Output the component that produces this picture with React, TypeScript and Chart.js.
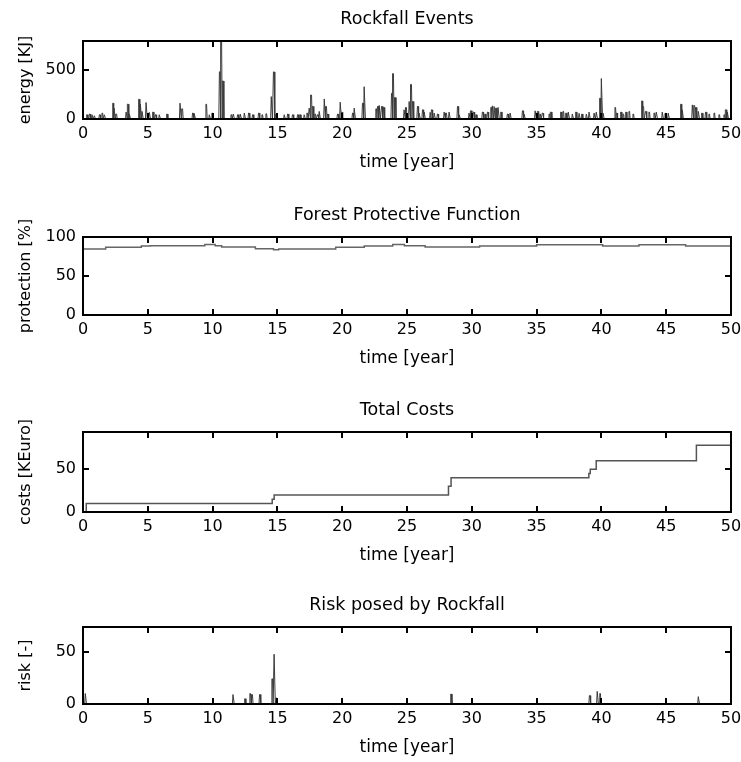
import React, { useEffect, useRef } from "react";
import { Chart, registerables } from "chart.js";

Chart.register(...registerables);

// ---------- shared axis ticks ----------
const xTicks = [0, 5, 10, 15, 20, 25, 30, 35, 40, 45, 50];

// ---------- Rockfall Events ----------
const eventTimes = [
  0.31, 0.52, 0.72, 0.9, 1.29, 1.49, 1.67, 2.32, 2.42, 2.57, 3.35, 3.47, 3.6, 4.32, 4.45, 4.58, 4.89, 5.14,
  5.4, 5.61, 5.91, 6.48, 7.51, 7.66, 8.48, 8.61, 9.51, 9.77, 9.97, 10.55, 10.67, 10.8, 11.44, 11.62, 11.95,
  12.16, 12.47, 12.8, 13.11, 13.57, 13.83, 14.14, 14.55, 14.72, 14.88, 15.55, 15.81, 16.19, 16.58, 16.75,
  17.09, 17.3, 17.48, 17.61, 17.74, 17.92, 18.12, 18.25, 18.64, 18.76, 18.89, 19.66, 19.87, 19.97, 20.82,
  20.95, 21.59, 21.72, 22.62, 22.75, 22.88, 23.06, 23.21, 23.83, 23.93, 24.08, 24.8, 24.93, 25.19, 25.32,
  25.45, 25.83, 25.96, 26.22, 26.35, 26.81, 26.91, 27.12, 27.37, 27.89, 28.02, 28.27, 28.92, 29.05, 29.81,
  29.94, 30.15, 30.33, 30.84, 31.02, 31.23, 31.49, 31.61, 31.74, 31.87, 32.05, 32.26, 32.77, 32.98, 33.93,
  34.06, 34.91, 35.09, 35.27, 35.47, 35.98, 36.11, 36.88, 37.06, 37.27, 37.47, 37.78, 38.04, 38.3, 38.5,
  38.86, 39.07, 39.46, 39.63, 39.89, 40.02, 40.15, 41.07, 41.18, 41.51, 41.69, 41.9, 42.15, 42.46, 43.13,
  43.23, 43.43, 43.69, 44.08, 44.26, 44.72, 44.93, 45.18, 46.14, 46.26, 47.04, 47.17, 47.29, 47.5, 47.76,
  48.06, 48.32, 48.71, 49.09, 49.48, 49.61, 49.74,
];
const eventEnergy = [
  43, 50, 43, 33, 43, 60, 43, 160, 110, 50, 70, 150, 50, 200, 150, 77, 167, 67,
  70, 43, 43, 50, 160, 103, 60, 53, 150, 43, 60, 478, 790, 385, 43, 50, 43,
  50, 60, 60, 43, 60, 43, 53, 227, 477, 43, 43, 50, 43, 43, 43,
  43, 60, 110, 243, 127, 50, 43, 77, 203, 127, 50, 50, 170, 70, 60,
  110, 160, 327, 103, 127, 137, 127, 117, 260, 460, 217, 93, 117, 177, 350,
  177, 127, 60, 93, 70, 67, 93, 60, 50, 70, 60, 70, 127, 43, 60,
  83, 70, 43, 70, 50, 70, 117, 133, 127, 110, 117, 70, 50, 60, 83,
  50, 83, 77, 50, 60, 50, 70, 70, 77, 60, 70, 50, 70, 57, 50,
  50, 70, 60, 70, 210, 410, 60, 117, 60, 70, 50, 70, 77, 50, 183,
  127, 77, 70, 60, 70, 70, 57, 60, 150, 93, 143, 137, 117, 77, 60,
  70, 50, 60, 43, 43, 93, 70,
];
const energyTicks = [0, 500];
const energyMax = 790;

// ---------- Forest Protective Function ----------
const protectionTimes = [0, 1.75, 4.5, 5.2, 9.4, 10.2, 10.7, 13.3, 14.7, 15.1, 19.5, 21.7, 23.9, 24.8, 26.4, 30.6, 35.0, 40.1, 42.9, 46.5, 50];
const protectionValues = [84.5, 86.7, 88.4, 88.8, 90.5, 88.8, 87.1, 85, 83.7, 84.5, 86.7, 88.4, 90.5, 88.8, 87.1, 88.4, 90, 88.4, 90, 88.4, 88.4];
const protectionTicks = [0, 50, 100];
const protectionMax = 100;

// ---------- Total Costs ----------
const costTimes = [0, 0.25, 14.6, 14.75, 28.2, 28.4, 39.03, 39.14, 39.6, 47.33, 50];
const costValues = [0, 10, 15, 20, 30, 40, 45, 50, 60, 78, 78];
const costTicks = [0, 50];
const costMax = 93.5;

// ---------- Risk posed by Rockfall ----------
const riskTimes = [0.2, 11.6, 12.5, 12.9, 13.05, 13.65, 14.6, 14.77, 14.92, 28.4, 39.1, 39.7, 39.9, 47.5];
const riskValues = [10, 9, 5, 10, 9, 9, 24, 47.5, 6, 9.5, 8, 12, 10, 7];
const riskTicks = [0, 50];
const riskMax = 73.5;

// ---------- styling ----------
const FONT = "'DejaVu Sans', 'Liberation Sans', Arial, sans-serif";
const TEXT = "#000";
const W = 741;
const PLOT_LEFT = 83;
const PLOT_RIGHT = 731;
const TOP_SPACE = 41;
const X_AXIS_H = 58;

type Pt = { x: number; y: number };

function spikes(times: number[], values: number[]): Pt[] {
  const pts: Pt[] = [];
  times.forEach((t, i) => {
    pts.push({ x: t - 0.07, y: 0 }, { x: t - 0.025, y: values[i] }, { x: t + 0.025, y: values[i] }, { x: t + 0.07, y: 0 });
  });
  return pts;
}

function steps(times: number[], values: number[]): Pt[] {
  return times.map((t, i) => ({ x: t, y: values[i] }));
}

const matlabAxes = {
  id: "matlabAxes",
  afterDraw(chart: any) {
    const { ctx, chartArea } = chart;
    const left = Math.round(chartArea.left);
    const right = Math.round(chartArea.right);
    const top = Math.round(chartArea.top);
    const bottom = Math.round(chartArea.bottom);
    const xs = chart.scales["x"];
    const ys = chart.scales["y"];
    const TL = 6;
    const LW = 2;
    ctx.save();
    ctx.fillStyle = "#000";
    ctx.fillRect(left - 1, top - 1, right - left + LW, LW);
    ctx.fillRect(left - 1, bottom - 1, right - left + LW, LW);
    ctx.fillRect(left - 1, top - 1, LW, bottom - top + LW);
    ctx.fillRect(right - 1, top - 1, LW, bottom - top + LW);
    const xt: any[] = xs ? xs.ticks || [] : [];
    for (let i = 0; i < xt.length; i++) {
      const px = Math.round(xs.getPixelForValue(xt[i].value));
      ctx.fillRect(px - 1, bottom - TL, LW, TL);
      ctx.fillRect(px - 1, top, LW, TL);
    }
    const yt: any[] = ys ? ys.ticks || [] : [];
    for (let i = 0; i < yt.length; i++) {
      const py = Math.round(ys.getPixelForValue(yt[i].value));
      ctx.fillRect(left, py - 1, TL, LW);
      ctx.fillRect(right - TL, py - 1, TL, LW);
    }
    ctx.restore();
  },
};

type PanelProps = {
  title: string;
  yLabel: string;
  data: Pt[];
  yMax: number;
  yTicks: number[];
  stepped: boolean;
  color: string;
  lineWidth: number;
  plotTop: number;
  plotH: number;
};

function Panel(p: PanelProps) {
  const ref = useRef<HTMLCanvasElement | null>(null);
  const height = TOP_SPACE + p.plotH + X_AXIS_H;
  useEffect(() => {
    if (!ref.current) return;
    const font = { family: FONT, size: 16, weight: "normal" as const };
    const titleFont = { family: FONT, size: 17.5, weight: "normal" as const };
    const xTitleFont = { family: FONT, size: 17, weight: "normal" as const };
    const chart = new Chart(ref.current, {
      type: "line",
      data: {
        datasets: [
          {
            data: p.data,
            borderColor: p.color,
            borderWidth: p.lineWidth,
            pointRadius: 0,
            fill: false,
            tension: 0,
            stepped: p.stepped,
            xAxisID: "x",
            yAxisID: "y",
          } as any,
        ],
      },
      plugins: [matlabAxes],
      options: {
        animation: false,
        responsive: false,
        maintainAspectRatio: false,
        events: [],
        layout: { padding: { left: 0, right: W - PLOT_RIGHT, top: 0, bottom: 0 }, autoPadding: false },
        plugins: {
          legend: { display: false },
          tooltip: { enabled: false },
          title: { display: false },
        },
        scales: {
          x: {
            type: "linear",
            position: "bottom",
            min: 0,
            max: 50,
            grid: { display: false, drawTicks: false },
            border: { display: false },
            afterBuildTicks: (s: any) => {
              s.ticks = xTicks.map((v) => ({ value: v }));
            },
            afterFit: (s: any) => {
              s.height = X_AXIS_H;
              s.paddingLeft = 0;
              s.paddingRight = 0;
            },
            ticks: { color: TEXT, font, padding: 5, maxRotation: 0, autoSkip: false },
            title: { display: true, text: "time [year]", color: TEXT, font: xTitleFont, padding: { top: 0, bottom: 3.8 } },
          },
          // top axis carries the subplot title, centred over the plot box
          xTop: {
            type: "linear",
            position: "top",
            display: true,
            min: 0,
            max: 50,
            grid: { display: false, drawTicks: false },
            border: { display: false },
            ticks: { display: false },
            afterFit: (s: any) => {
              s.height = TOP_SPACE;
              s.paddingLeft = 0;
              s.paddingRight = 0;
            },
            title: { display: true, text: p.title, color: TEXT, font: titleFont, padding: { top: 9, bottom: 0 } },
          },
          y: {
            type: "linear",
            min: 0,
            max: p.yMax,
            grid: { display: false, drawTicks: false },
            border: { display: false },
            afterBuildTicks: (s: any) => {
              s.ticks = p.yTicks.map((v) => ({ value: v }));
            },
            afterFit: (s: any) => {
              s.width = PLOT_LEFT;
              s.paddingTop = 0;
              s.paddingBottom = 0;
            },
            ticks: { color: TEXT, font, padding: 7, autoSkip: false },
            title: { display: true, text: p.yLabel, color: TEXT, font, padding: { top: 16, bottom: 0 } },
          },
        },
      } as any,
    });
    return () => chart.destroy();
  }, []);
  return (
    <canvas
      ref={ref}
      width={W}
      height={height}
      style={{ position: "absolute", left: 0, top: p.plotTop - TOP_SPACE, width: W, height, display: "block" }}
    />
  );
}

export default function App() {
  return (
    <div style={{ position: "absolute", left: 0, top: 0, width: W, height: 762, background: "#fff", overflow: "hidden" }}>
      <Panel
        title="Rockfall Events"
        yLabel="energy [KJ]"
        data={spikes(eventTimes, eventEnergy)}
        yMax={energyMax}
        yTicks={energyTicks}
        stepped={false}
        color="#3a3a3a"
        lineWidth={1}
        plotTop={41}
        plotH={78}
      />
      <Panel
        title="Forest Protective Function"
        yLabel="protection [%]"
        data={steps(protectionTimes, protectionValues)}
        yMax={protectionMax}
        yTicks={protectionTicks}
        stepped={true}
        color="#666"
        lineWidth={1.5}
        plotTop={237}
        plotH={78}
      />
      <Panel
        title="Total Costs"
        yLabel="costs [KEuro]"
        data={steps(costTimes, costValues)}
        yMax={costMax}
        yTicks={costTicks}
        stepped={true}
        color="#555"
        lineWidth={1.5}
        plotTop={432}
        plotH={80}
      />
      <Panel
        title="Risk posed by Rockfall"
        yLabel="risk [-]"
        data={spikes(riskTimes, riskValues)}
        yMax={riskMax}
        yTicks={riskTicks}
        stepped={false}
        color="#3a3a3a"
        lineWidth={1}
        plotTop={627}
        plotH={77}
      />
    </div>
  );
}
